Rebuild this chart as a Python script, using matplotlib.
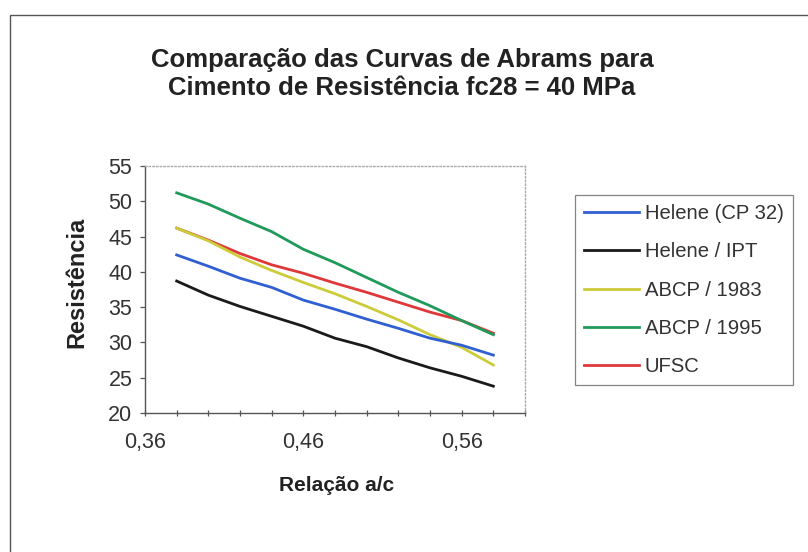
import numpy as np
import matplotlib
matplotlib.use('Agg')
import matplotlib.pyplot as plt
from matplotlib.patches import Rectangle
from matplotlib.ticker import MultipleLocator, FixedLocator, FuncFormatter

plt.rcParams['font.family'] = ['Liberation Sans', 'DejaVu Sans']

# Relacao agua/cimento
ac = [0.38, 0.40, 0.42, 0.44, 0.46, 0.48, 0.50, 0.52, 0.54, 0.56, 0.58]

# Resistencia (MPa) de cada curva de Abrams
helene_cp32 = [42.4, 40.8, 39.1, 37.8, 36.0, 34.7, 33.3, 32.0, 30.6, 29.6, 28.2]
helene_ipt = [38.7, 36.7, 35.1, 33.7, 32.3, 30.6, 29.4, 27.8, 26.4, 25.2, 23.8]
abcp_1983 = [46.2, 44.4, 42.1, 40.2, 38.5, 36.9, 35.1, 33.2, 31.1, 29.3, 26.8]
abcp_1995 = [51.2, 49.6, 47.6, 45.7, 43.2, 41.3, 39.2, 37.1, 35.2, 33.1, 31.1]
ufsc = [46.2, 44.5, 42.6, 41.0, 39.8, 38.4, 37.1, 35.7, 34.3, 33.1, 31.3]

labels = ['Helene (CP 32)', 'Helene / IPT', 'ABCP / 1983', 'ABCP / 1995', 'UFSC']
series = [helene_cp32, helene_ipt, abcp_1983, abcp_1995, ufsc]
cores = ['#2f5fd0', '#1a1a1a', '#cccc3a', '#1f9a5a', '#e0383a']

fig = plt.figure(figsize=(8.08, 5.52), dpi=100)

# Moldura do grafico
fig.patches.append(Rectangle((10 / 808, -0.05), 1.2, 1 - 15 / 552 + 0.05,
                             transform=fig.transFigure, fill=False,
                             edgecolor='#555555', lw=1.0))

fig.text(0.4975, 0.866, 'Comparação das Curvas de Abrams para\nCimento de Resistência fc28 = 40 MPa',
         ha='center', va='center', fontsize=18.5, fontweight='bold',
         color='#222222', linespacing=1.2)

ax = fig.add_axes([145 / 808, 1 - 413 / 552, 380 / 808, 247 / 552])

# Desenha da ultima para a primeira (ordem de sobreposicao)
for y, lab, c in list(zip(series, labels, cores))[::-1]:
    ax.plot(ac, y, color=c, lw=2.0, label=lab)

ax.set_xlim(0.36, 0.60)
ax.set_ylim(20, 55)
ax.xaxis.set_major_locator(FixedLocator([0.36, 0.46, 0.56]))
ax.xaxis.set_minor_locator(FixedLocator(np.arange(0.36, 0.601, 0.02)))
ax.yaxis.set_major_locator(MultipleLocator(5))
ax.xaxis.set_major_formatter(FuncFormatter(lambda v, p: ('%.2f' % v).replace('.', ',')))

for s in ['left', 'bottom']:
    ax.spines[s].set_color('#555555')
    ax.spines[s].set_linewidth(1.0)
for s in ['top', 'right']:
    ax.spines[s].set_color('#aaaaaa')
    ax.spines[s].set_linestyle(':')
    ax.spines[s].set_linewidth(1.0)

ax.tick_params(axis='x', which='both', direction='inout', length=5, width=0.9,
               color='#555555', labelsize=15.5, pad=11, labelcolor='#333333')
ax.tick_params(axis='y', direction='out', length=3.6, width=0.9, color='#555555',
               labelsize=15.5, pad=5.5, labelcolor='#333333')

ax.set_xlabel('Relação a/c', fontsize=15, fontweight='bold', color='#222222')
ax.set_ylabel('Resistência', fontsize=17, fontweight='bold', color='#222222')
ax.xaxis.set_label_coords(0.503, -0.255)
ax.yaxis.set_label_coords(-0.15, 0.53)

handles, labs = ax.get_legend_handles_labels()
leg = fig.legend(handles[::-1], labs[::-1], loc='upper left',
                 bbox_to_anchor=(575 / 808, 1 - 195 / 552),
                 fontsize=14.6, frameon=True, fancybox=False, handlelength=2.7,
                 handletextpad=0.3, labelspacing=0.95, borderpad=0.45,
                 borderaxespad=0)
leg.get_frame().set_edgecolor('#666666')
leg.get_frame().set_linewidth(0.9)
for t in leg.get_texts():
    t.set_color('#333333')

plt.savefig('out.png', dpi=100, facecolor='w')
plt.close()
